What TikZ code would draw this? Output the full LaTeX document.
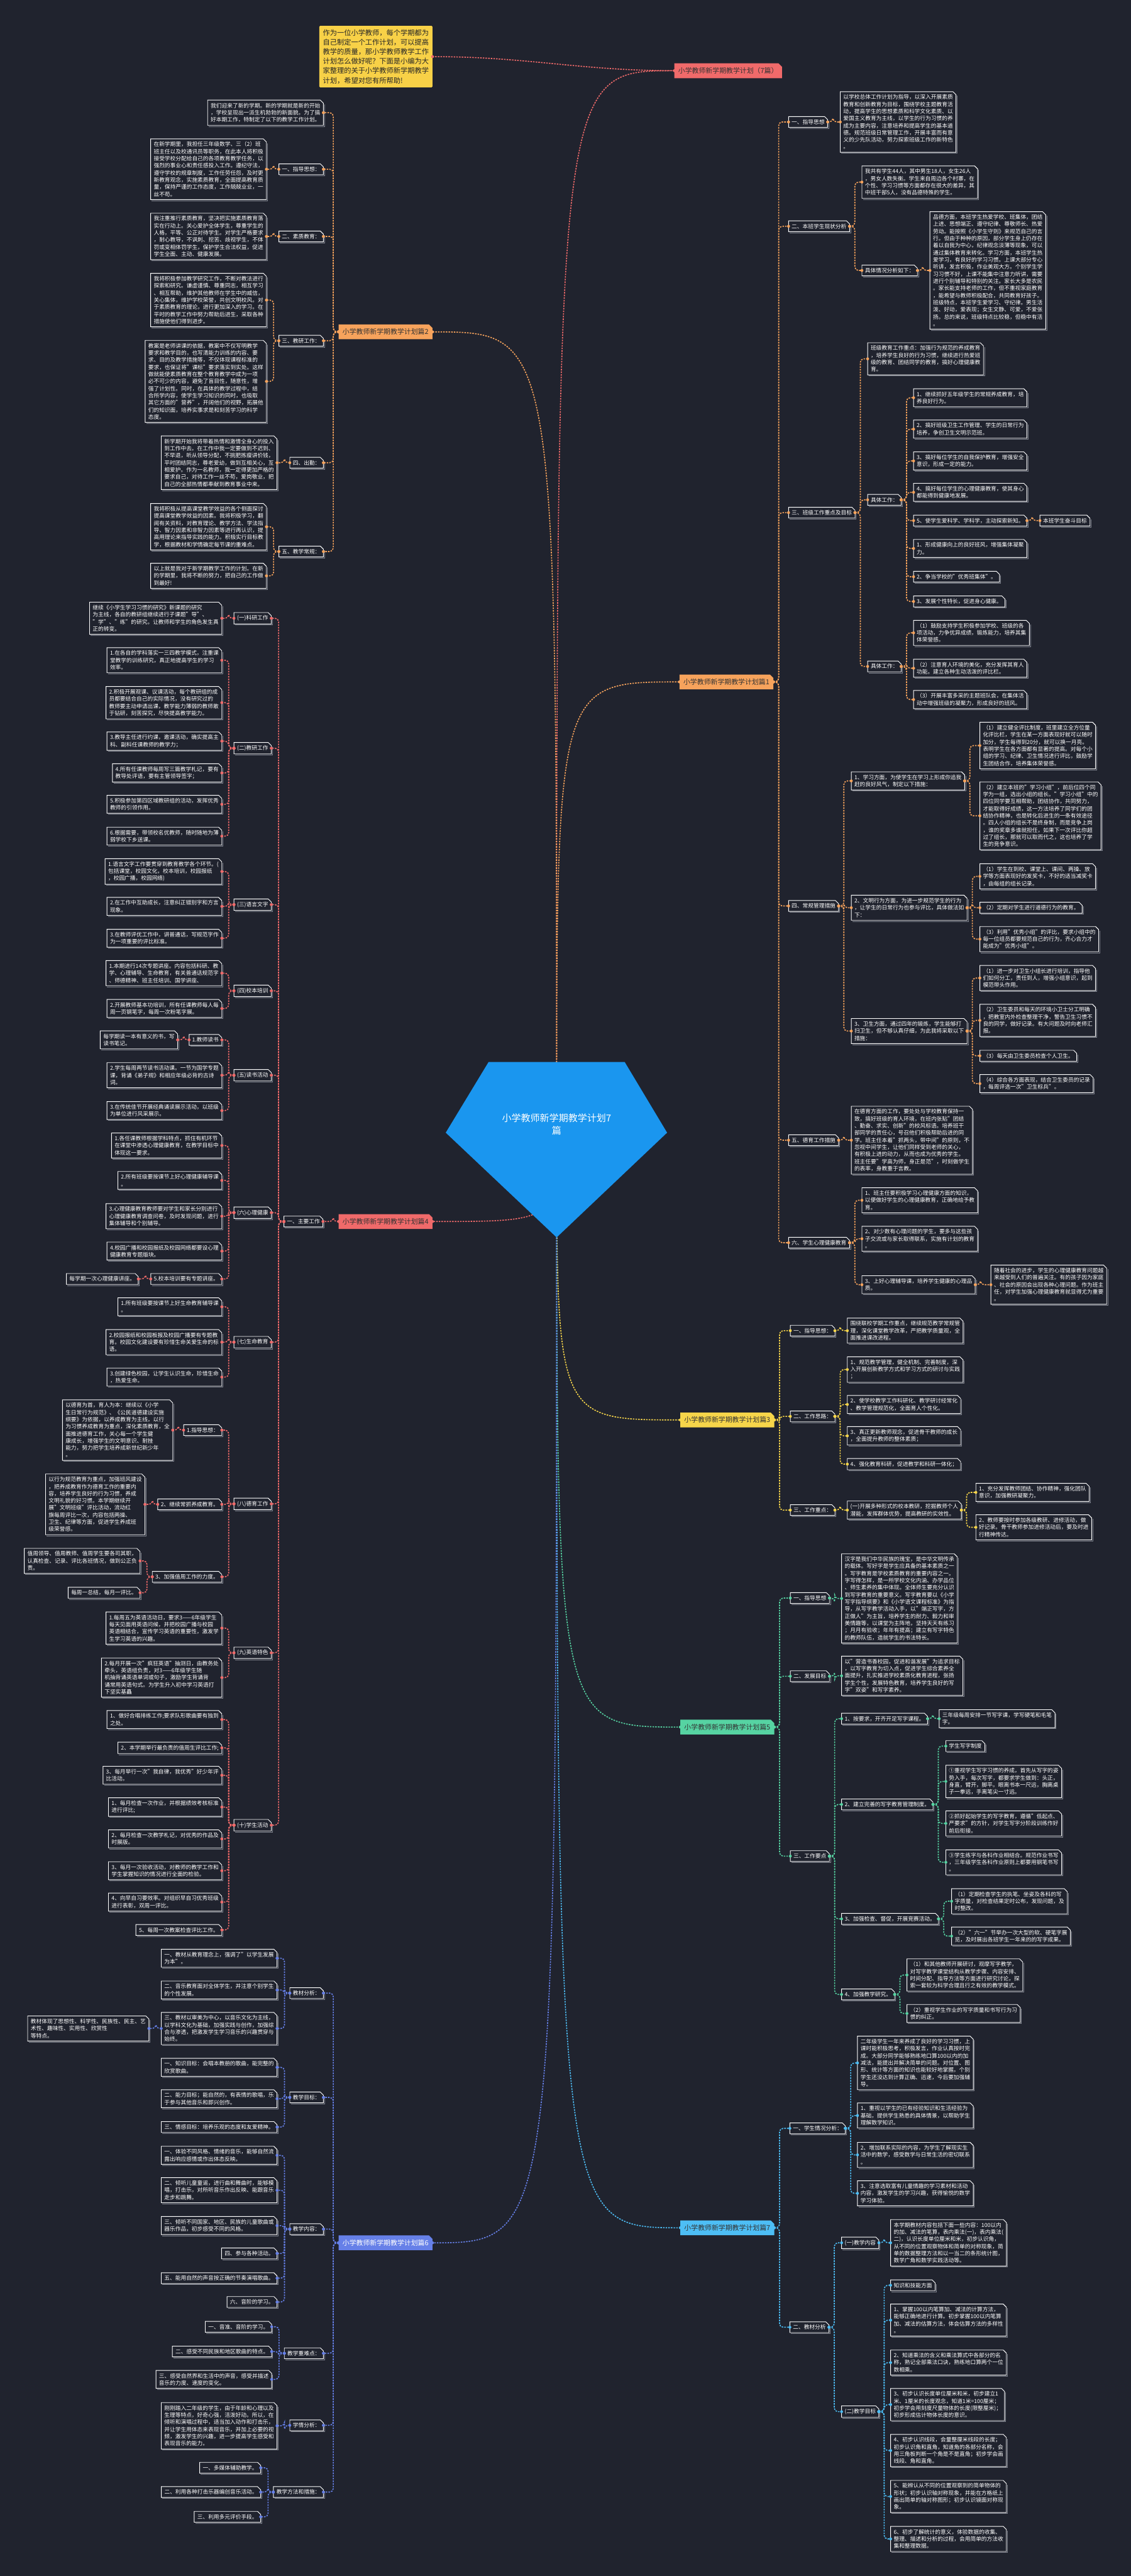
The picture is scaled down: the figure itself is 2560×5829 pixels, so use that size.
\documentclass[tikz,border=0pt]{standalone}
\usepackage{fontspec}
\setmainfont{Noto Sans CJK SC}
\usetikzlibrary{calc}
\definecolor{bgc}{HTML}{20232E}
\definecolor{cOr}{HTML}{F7A35C}
\definecolor{cRd}{HTML}{F06A6A}
\definecolor{cYe}{HTML}{F6D54A}
\definecolor{cGr}{HTML}{56D3A2}
\definecolor{cBl}{HTML}{6680E8}
\definecolor{cCy}{HTML}{4DBEF5}
\definecolor{cRoot}{HTML}{1A96EF}
\definecolor{cNote}{HTML}{F8D147}
\definecolor{shd}{HTML}{7D818C}
\pgfdeclarelayer{bgl}\pgfdeclarelayer{midl}\pgfsetlayers{bgl,midl,main}
\tikzset{
 box/.style={fill=bgc,text=white,font=\fontsize{12.4}{16.1}\selectfont,align=left,inner xsep=7pt,inner ysep=6.5pt,outer sep=0pt},
 brn/.style={font=\fontsize{15.5}{19}\selectfont,inner xsep=9pt,inner ysep=9.5pt,outer sep=0pt},
 conn/.style={line width=2.3pt,dash pattern=on 3.5pt off 2.5pt,rounded corners=8pt},
 outln/.style={white,line width=1.3pt},
 shdln/.style={shd,line width=1.3pt},
 notebox/.style={fill=cNote,text=black!85,font=\fontsize{16}{21.6}\selectfont,align=left,inner xsep=8pt,inner ysep=8pt,rounded corners=2pt}
}
\newcommand\outl[1]{%
 \draw[shdln] ([xshift=2.5pt,yshift=-2.5pt]#1.south west) -- ([xshift=2.5pt,yshift=-2.5pt]#1.south east) -- ([xshift=2.5pt,yshift=-9.5pt]#1.north east);
 \draw[outln] (#1.south west) -- (#1.north west) -- ([xshift=-7pt]#1.north east) -- ([yshift=-7pt]#1.north east) -- (#1.south east) -- cycle;}
\newcommand\bR[4]{\node[box,anchor=west] (#1) at (#2,#3) {#4};\outl{#1}}
\newcommand\bL[4]{\node[box,anchor=east] (#1) at (#2,#3) {#4};\outl{#1}}
\newcommand\brN[7]{\node[brn,anchor=#4,text=#6] (#1) at (#2,#3) {#7};
 \begin{pgfonlayer}{midl}\fill[#5] (#1.south west) -- (#1.north west) -- ([xshift=-8pt]#1.north east) -- ([yshift=-8pt]#1.north east) -- (#1.south east) -- cycle;\end{pgfonlayer}}
\newcommand\cR[3]{\draw[conn,#1] (#2.east) -- ++(12pt,0pt) |- (#3.west); \fill[#1] (#2.east) circle (3.3pt) (#3.west) circle (3.3pt);}
\newcommand\cL[3]{\draw[conn,#1] (#2.west) -- ++(-12pt,0pt) |- (#3.east); \fill[#1] (#2.west) circle (3.3pt) (#3.east) circle (3.3pt);}
\begin{document}
\begin{tikzpicture}[x=1pt,y=-1pt]
\begin{pgfonlayer}{bgl}
\fill[bgc] (0,0) rectangle (2560,5829);
\end{pgfonlayer}
\useasboundingbox (0,0) rectangle (2560,5829);

% ---------- note and title ----------
\node[notebox,anchor=south east] (N) at (979,198) {作为一位小学教师，每个学期都为\\自己制定一个工作计划，可以提高\\教学的质量，那小学教师教学工作\\计划怎么做好呢？下面是小编为大\\家整理的关于小学教师新学期教学\\计划，希望对您有所帮助!};
\brN{T}{1770}{160}{east}{cRd}{black!80}{小学教师新学期教学计划（7篇）}

% ---------- branch nodes ----------
\brN{B1}{1538}{1543}{west}{cOr}{black!80}{小学教师新学期教学计划篇1}
\brN{B3}{1540}{3213}{west}{cYe}{black!80}{小学教师新学期教学计划篇3}
\brN{B5}{1540}{3908}{west}{cGr}{black!80}{小学教师新学期教学计划篇5}
\brN{B7}{1540}{5041}{west}{cCy}{black!80}{小学教师新学期教学计划篇7}
\brN{B2}{979}{751}{east}{cOr}{black!80}{小学教师新学期教学计划篇2}
\brN{B4}{979}{2764}{east}{cRd}{black!80}{小学教师新学期教学计划篇4}
\brN{B6}{979}{5075}{east}{cBl}{white}{小学教师新学期教学计划篇6}

% ---------- root ----------
\coordinate (rootc) at (1260,2560);
\draw[conn,cRd] (rootc) .. controls (1260,160) .. (T.west);
\draw[conn,cOr] (rootc) .. controls (1260,1543) .. (B1.west);
\draw[conn,cYe] (rootc) .. controls (1260,3213) .. (B3.west);
\draw[conn,cGr] (rootc) .. controls (1260,3908) .. (B5.west);
\draw[conn,cCy] (rootc) .. controls (1260,5041) .. (B7.west);
\draw[conn,cOr] (rootc) .. controls (1260,751) .. (B2.east);
\draw[conn,cRd] (rootc) .. controls (1260,2764) .. (B4.east);
\draw[conn,cBl] (rootc) .. controls (1260,5075) .. (B6.east);
\fill[cRd] (T.west) circle (3.3pt); \fill[cOr] (B1.west) circle (3.3pt); \fill[cYe] (B3.west) circle (3.3pt);
\fill[cGr] (B5.west) circle (3.3pt); \fill[cCy] (B7.west) circle (3.3pt); \fill[cOr] (B2.east) circle (3.3pt);
\fill[cRd] (B4.east) circle (3.3pt); \fill[cBl] (B6.east) circle (3.3pt);
\draw[conn,cRd] (N.east) to[out=0,in=180] (T.west);
\fill[cRd] (N.east) circle (3.3pt);
\fill[cRoot] (1106,2403) -- (1414,2403) -- (1510,2563) -- (1260,2800) -- (1009,2563) -- cycle;
\node[text=white,font=\fontsize{21.4}{28}\selectfont,align=center] (root) at (1260,2544) {小学教师新学期教学计划7\\篇};

% =============== 篇1 ===============
\bR{a1}{1785}{276}{一、指导思想}
\bR{a2}{1785}{512}{二、本班学生现状分析}
\bR{a3}{1785}{1160}{三、班级工作重点及目标}
\bR{a4}{1785}{2050}{四、常规管理措施}
\bR{a5}{1785}{2580}{五、德育工作措施}
\bR{a6}{1785}{2812}{六、学生心理健康教育}
\foreach \c in {a1,a2,a3,a4,a5,a6} {\cR{cOr}{B1}{\c}}
\bR{a1t}{1902}{276}{以学校总体工作计划为指导，以深入开展素质\\教育和创新教育为目标，围绕学校主题教育活\\动，提高学生的思想素质和科学文化素质、以\\爱国主义教育为主线，以学生的行为习惯的养\\成为主要内容，注意培养和提高学生的基本道\\德。规范班级日常管理工作，开展丰富而有意\\义的少先队活动，努力探索班级工作的新特色\\。}
\cR{cOr}{a1}{a1t}
\bR{a2a}{1951}{412}{我共有学生44人，其中男生18人，女生26人\\，男女人数失衡。学生来自周边各个村寨，在\\个性、学习习惯等方面都存在很大的差异，其\\中班干部5人，没有品德特殊的学生。}
\bR{a2b}{1951}{612}{具体情况分析如下：}
\cR{cOr}{a2}{a2a}\cR{cOr}{a2}{a2b}
\bR{a2c}{2105}{612}{品德方面，本班学生热爱学校、班集体，团结\\上进、思想端正、遵守纪律、尊敬师长、热爱\\劳动。能按照《小学生守则》来规范自己的言\\行。但由于种种的原因，部分学生身上仍存在\\着以自我为中心，纪律观念淡薄等现象，可以\\通过集体教育来转化。学习方面，本班学生热\\爱学习，有良好的学习习惯。上课大部分专心\\听讲，发言积极，作业美观大方。个别学生学\\习习惯不好，上课不能集中注意力听讲，需要\\进行个别辅导和特别的关注。家长大多是农民\\。家长能支持老师的工作，但不重视家庭教育\\，能希望与教师积极配合，共同教育好孩子。\\班级特点，本班学生爱学习、守纪律。男生活\\泼、好动，爱表现；女生文静、可爱，不爱张\\扬。总的来说，班级特点比较稳，但稳中有活\\。}
\cR{cOr}{a2b}{a2c}
\bR{a3a}{1964}{812}{班级教育工作重点：加强行为规范的养成教育\\，培养学生良好的行为习惯，继续进行热爱班\\级的教育、团结同学的教育，搞好心理健康教\\育。}
\bR{a3b}{1964}{1131}{具体工作：}
\bR{a3c}{1964}{1508}{具体工作：}
\foreach \c in {a3a,a3b,a3c} {\cR{cOr}{a3}{\c}}
\bR{a3b1}{2068}{900}{1、继续抓好五年级学生的常规养成教育，培\\养良好行为。}
\bR{a3b2}{2068}{971}{2、搞好班级卫生工作管理、学生的日常行为\\培养，争创卫生文明示范班。}
\bR{a3b3}{2068}{1043}{3、搞好每位学生的自我保护教育，增强安全\\意识，形成一定的能力。}
\bR{a3b4}{2068}{1114}{4、搞好每位学生的心理健康教育，使其身心\\都能得到健康地发展。}
\bR{a3b5}{2068}{1178}{5、使学生爱科学、学科学，主动探索新知。}
\bR{a3b6}{2068}{1241}{1、形成健康向上的良好班风，增强集体凝聚\\力。}
\bR{a3b7}{2068}{1305}{2、争当学校的"优秀班集体"。}
\bR{a3b8}{2068}{1361}{3、发展个性特长，促进身心健康。}
\foreach \c in {a3b1,a3b2,a3b3,a3b4,a3b5,a3b6,a3b7,a3b8} {\cR{cOr}{a3b}{\c}}
\bR{a3b5x}{2354}{1178}{本班学生奋斗目标}
\cR{cOr}{a3b5}{a3b5x}
\bR{a3c1}{2068}{1432}{（1）鼓励支持学生积极参加学校、班级的各\\项活动，力争优异成绩，锻炼能力，培养其集\\体荣誉感。}
\bR{a3c2}{2068}{1512}{（2）注意育人环境的美化，充分发挥其育人\\功能。建立各种生动活泼的评比栏。}
\bR{a3c3}{2068}{1583}{（3）开展丰富多采的主题班队会，在集体活\\动中增强班级的凝聚力，形成良好的班风。}
\foreach \c in {a3c1,a3c2,a3c3} {\cR{cOr}{a3c}{\c}}
\bR{a4a}{1927}{1767}{1、学习方面，为使学生在学习上形成你追我\\赶的良好风气，制定以下措施：}
\bR{a4b}{1927}{2054}{2、文明行为方面，为进一步规范学生的行为\\，让学生的日常行为也参与评比，具体做法如\\下：}
\bR{a4c}{1927}{2333}{3、卫生方面，通过四年的锻炼，学生能够打\\扫卫生，但不够认真仔细，为此我将采取以下\\措施：}
\foreach \c in {a4a,a4b,a4c} {\cR{cOr}{a4}{\c}}
\bR{a4a1}{2218}{1687}{（1）建立健全评比制度，班里建立全方位量\\化评比栏，学生在某一方面表现好就可以随时\\加分，学生每得到20分，就可以换一月亮。\\表明学生在各方面都有显著的提高。对每个小\\组的学习、纪律、卫生情况进行评比，鼓励学\\生团结合作，培养集体荣誉感。}
\bR{a4a2}{2218}{1846}{（2）建立本班的"学习小组"，前后位四个同\\学为一组，选出小组的组长。"学习小组"中的\\四位同学要互相帮助，团结协作，共同努力，\\才能取得好成绩，这一方法培养了同学们的团\\结协作精神，也是转化后进生的一条有效途径\\。四人小组的组长不是终身制，而是竞争上岗\\，谁的奖章多谁就担任，如果下一次评比你超\\过了组长，那就可以取而代之，这也培养了学\\生的竞争意识。}
\foreach \c in {a4a1,a4a2} {\cR{cOr}{a4a}{\c}}
\bR{a4b1}{2218}{1983}{（1）学生在到校、课堂上、课间、两操、放\\学等方面表现好的发奖卡，不好的适当减奖卡\\，由每组的组长记录。}
\bR{a4b2}{2218}{2054}{（2）定期对学生进行道德行为的教育。}
\bR{a4b3}{2218}{2125}{（3）利用"优秀小组"的评比，要求小组中的\\每一位组员都要规范自己的行为，齐心合力才\\能成为"优秀小组"。}
\foreach \c in {a4b1,a4b2,a4b3} {\cR{cOr}{a4b}{\c}}
\bR{a4c1}{2218}{2213}{（1）进一步对卫生小组长进行培训，指导他\\们如何分工，责任到人，增强小组意识，起到\\模范带头作用。}
\bR{a4c2}{2218}{2309}{（2）卫生委员和每天的环境小卫士分工明确\\，把教室内外检查整理干净，警告卫生习惯不\\良的同学，做好记录。有大问题及时向老师汇\\报。}
\bR{a4c3}{2218}{2389}{（3）每天由卫生委员检查个人卫生。}
\bR{a4c4}{2218}{2452}{（4）综合各方面表现，结合卫生委员的记录\\，每周评选一次"卫生标兵"。}
\foreach \c in {a4c1,a4c2,a4c3,a4c4} {\cR{cOr}{a4c}{\c}}
\bR{a5t}{1927}{2580}{在德育方面的工作，要处处与学校教育保持一\\致，搞好班级的育人环境，在班内张贴"团结\\、勤奋、求实、创新"的校风标语。培养班干\\部同学的责任心，号召他们积极帮助后进的同\\学。班主任本着"抓两头，带中间"的原则，不\\忽视中间学生，让他们同样受到老师的关心，\\有积极上进的动力，从而也成为优秀的学生。\\班主任要"学高为师，身正是范"，时刻做学生\\的表率，身教重于言教。}
\cR{cOr}{a5}{a5t}
\bR{a6a}{1951}{2716}{1、班主任要积极学习心理健康方面的知识，\\以便做好学生的心理健康教育，正确地给予教\\育。}
\bR{a6b}{1951}{2803}{2、对少数有心理问题的学生，要多与这些孩\\子交流或与家长取得联系，实施有计划的教育\\。}
\bR{a6c}{1951}{2907}{3、上好心理辅导课，培养学生健康的心理品\\质。}
\foreach \c in {a6a,a6b,a6c} {\cR{cOr}{a6}{\c}}
\bR{a6cx}{2243}{2907}{随着社会的进步，学生的心理健康教育问题越\\来越受到人们的普遍关注。有的孩子因为家庭\\、社会的原因会出现各种心理问题。作为班主\\任，对学生加强心理健康教育就显得尤为重要\\。}
\cR{cOr}{a6c}{a6cx}

% =============== 篇3 ===============
\bR{c1}{1789}{3011}{一、指导思想：}
\bR{c2}{1789}{3205}{二、工作思路：}
\bR{c3}{1789}{3417}{三、工作重点：}
\foreach \c in {c1,c2,c3} {\cR{cYe}{B3}{\c}}
\bR{c1t}{1918}{3011}{围绕联校学期工作重点，继续规范教学常规管\\理，深化课堂教学改革，严把教学质量观，全\\面推进课改进程。}
\cR{cYe}{c1}{c1t}
\bR{c2a}{1918}{3099}{1、规范教学管理，健全机制、完善制度，深\\入开展创新教学方式和学习方式的研讨与实践\\；}
\bR{c2b}{1918}{3178}{2、使学校教学工作科研化、教学研讨经常化\\、教学管理规范化，全面育人个性化。}
\bR{c2c}{1918}{3249}{3、真正更新教师观念，促进骨干教师的成长\\，全面提升教师的整体素质；}
\bR{c2d}{1918}{3313}{4、强化教育科研，促进教学和科研一体化；}
\foreach \c in {c2a,c2b,c2c,c2d} {\cR{cYe}{c2}{\c}}
\bR{c3a}{1918}{3417}{(一)开展多种形式的校本教研，挖掘教师个人\\潜能，发挥群体优势，提高教研的实效性。}
\cR{cYe}{c3}{c3a}
\bR{c3a1}{2209}{3377}{1、充分发挥教师团结、协作精神，强化团队\\意识，加强教研凝聚力。}
\bR{c3a2}{2209}{3456}{2、教师要按时参加各级教研、进修活动，做\\好记录。骨干教师参加进修活动后，要及时进\\行精神传达。}
\foreach \c in {c3a1,c3a2} {\cR{cYe}{c3a}{\c}}

% =============== 篇5 ===============
\bR{e1}{1789}{3616}{一、指导思想}
\bR{e2}{1789}{3793}{二、发展目标}
\bR{e3}{1789}{4200}{三、工作要点}
\foreach \c in {e1,e2,e3} {\cR{cGr}{B5}{\c}}
\bR{e1t}{1905}{3617}{汉字是我们中华民族的瑰宝，是中华文明传承\\的载体。写好字是学生应具备的基本素质之一\\。写字教育是学校素质教育的重要内容之一。\\字写得怎样，是一所学校文化内涵、办学品位\\、师生素养的集中体现。全体师生要充分认识\\到写字教育的重要意义。写字教育要以《小学\\写字指导纲要》和《小学语文课程标准》为指\\导，从写字教学活动入手，以"端正写字，方\\正做人"为主旨，培养学生的耐力、毅力和审\\美情趣等，以课堂为主阵地，坚持天天有练习\\；月月有验收；年年有提高；建立有写字特色\\的教师队伍，造就学生的书法特长。}
\cR{cGr}{e1}{e1t}
\bR{e2t}{1905}{3792}{以"营造书香校园，促进和谐发展"为追求目标\\，以写字教育为切入点，促进学生综合素养全\\面提升，扎实推进学校素质化教育进程，张扬\\学生个性，发展特色教育，培养学生良好的写\\字"双姿"和写字素养。}
\cR{cGr}{e2}{e2t}
\bR{e3a}{1905}{3889}{1、按要求，开齐开足写字课程。}
\bR{e3b}{1905}{4083}{2、建立完善的写字教育管理制度。}
\bR{e3c}{1905}{4342}{3、加强检查、督促，开展竞赛活动。}
\bR{e3d}{1905}{4513}{4、加强教学研究。}
\foreach \c in {e3a,e3b,e3c,e3d} {\cR{cGr}{e3}{\c}}
\bR{e3ax}{2126}{3889}{三年级每周安排一节写字课，学写硬笔和毛笔\\字。}
\cR{cGr}{e3a}{e3ax}
\bR{e3b1}{2141}{3951}{学生写字制度}
\bR{e3b2}{2141}{4031}{①重视学生写字习惯的养成，首先从写字的姿\\势入手，每次写字，都要求学生做到：头正，\\身直，臂开，脚平。眼离书本一尺远，胸离桌\\子一拳远，手离笔尖一寸远。}
\bR{e3b3}{2141}{4126}{②抓好起始学生的写字教育，遵循"低起点、\\严要求"的方针，对学生写字分阶段训练作好\\前后衔接。}
\bR{e3b4}{2141}{4214}{③学生练字与各科作业相结合。规范作业书写\\，三年级学生各科作业原则上都要用钢笔书写\\。}
\foreach \c in {e3b1,e3b2,e3b3,e3b4} {\cR{cGr}{e3b}{\c}}
\bR{e3c1}{2154}{4302}{（1）定期检查学生的执笔、坐姿及各科的写\\字质量，对检查结果定时公布，发现问题，及\\时整改。}
\bR{e3c2}{2154}{4381}{（2）"六一"节举办一次大型的软、硬笔字展\\览，及时展出各班学生一年来的的写字成果。}
\foreach \c in {e3c1,e3c2} {\cR{cGr}{e3c}{\c}}
\bR{e3d1}{2053}{4469}{（1）和其他教师开展研讨，观摩写字教学，\\对写字教学课堂结构从教学步骤、内容安排、\\时间分配、指导方法等方面进行研究讨论，探\\索一套较为科学合理且行之有效的教学模式。}
\bR{e3d2}{2053}{4556}{（2）重视学生作业的写字质量和书写行为习\\惯的纠正。}
\foreach \c in {e3d1,e3d2} {\cR{cGr}{e3d}{\c}}

% =============== 篇7 ===============
\bR{g1}{1788}{4816}{一、学生情况分析：}
\bR{g2}{1788}{5266}{二、教材分析}
\foreach \c in {g1,g2} {\cR{cCy}{B7}{\c}}
\bR{g1a}{1941}{4668}{二年级学生一年来养成了良好的学习习惯，上\\课时能积极思考，积极发言，作业认真按时完\\成。大部分同学能够熟练地口算100以内的加\\减法，能提出并解决简单的问题。对位置、图\\形、统计等方面的知识也能较好地掌握。个别\\学生还没达到计算正确、迅速，今后要加强辅\\导。}
\bR{g1b}{1941}{4787}{1、重视以学生的已有经验知识和生活经验为\\基础，提供学生熟悉的具体情景，以帮助学生\\理解数学知识。}
\bR{g1c}{1941}{4876}{2、增加联系实际的内容，为学生了解现实生\\活中的数学，感受数学与日常生活的密切联系\\。}
\bR{g1d}{1941}{4963}{3、注意选取富有儿童情趣的学习素材和活动\\内容，激发学生的学习兴趣，获得愉悦的数学\\学习体验。}
\foreach \c in {g1a,g1b,g1c,g1d} {\cR{cCy}{g1}{\c}}
\bR{g2a}{1905}{5075}{(一)教学内容}
\bR{g2b}{1905}{5457}{(二)教学目标}
\foreach \c in {g2a,g2b} {\cR{cCy}{g2}{\c}}
\bR{g2at}{2016}{5075}{本学期教材内容包括下面一些内容：100以内\\的加、减法的笔算，表内乘法(一)，表内乘法(\\二)，认识长度单位厘米和米，初步认识角，\\从不同的位置观察物体和简单的对称现象，简\\单的数据整理方法和以一当二的条形统计图，\\数学广角和数学实践活动等。}
\cR{cCy}{g2a}{g2at}
\bR{g2b0}{2016}{5171}{知识和技能方面}
\bR{g2b1}{2016}{5250}{1、掌握100以内笔算加、减法的计算方法，\\能够正确地进行计算。初步掌握100以内笔算\\加、减法的估算方法，体会估算方法的多样性\\。}
\bR{g2b2}{2016}{5346}{2、知道乘法的含义和乘法算式中各部分的名\\称，熟记全部乘法口诀，熟练地口算两个一位\\数相乘。}
\bR{g2b3}{2016}{5441}{3、初步认识长度单位厘米和米，初步建立1\\米、1厘米的长度观念，知道1米=100厘米；\\初步学会用刻度尺量物体的长度(限整厘米)；\\初步形成估计物体长度的意识。}
\bR{g2b4}{2016}{5545}{4、初步认识线段，会量整厘米线段的长度；\\初步认识角和直角，知道角的各部分名称，会\\用三角板判断一个角是不是直角；初步学会画\\线段、角和直角。}
\bR{g2b5}{2016}{5649}{5、能辨认从不同的位置观察到的简单物体的\\形状；初步认识轴对称现象，并能在方格纸上\\画出简单的轴对称图形；初步认识镜面对称现\\象。}
\bR{g2b6}{2016}{5745}{6、初步了解统计的意义，体验数据的收集、\\整理、描述和分析的过程，会用简单的方法收\\集和整理数据。}
\foreach \c in {g2b0,g2b1,g2b2,g2b3,g2b4,g2b5,g2b6} {\cR{cCy}{g2b}{\c}}

% =============== 篇2 ===============
\bL{b0}{732}{255}{我们迎来了新的学期。新的学期就是新的开始\\，学校呈现出一派生机勃勃的新面貌。为了搞\\好本期工作，特制定了以下的教学工作计划。}
\bL{b1}{732}{383}{一、指导思想：}
\bL{b2}{732}{535}{二、素质教育：}
\bL{b3}{732}{771}{三、教研工作：}
\bL{b4}{732}{1047}{四、出勤：}
\bL{b5}{732}{1248}{五、教学常规：}
\foreach \c in {b0,b1,b2,b3,b4,b5} {\cL{cOr}{B2}{\c}}
\bL{b1t}{603}{383}{在新学期里，我担任三年级数学、三（2）班\\班主任以及校通讯员等职务，在此本人将积极\\接受学校分配给自己的各项教育教学任务，以\\强烈的事业心和责任感投入工作。遵纪守法，\\遵守学校的规章制度，工作任劳任怨，及时更\\新教育观念，实施素质教育，全面提高教育质\\量，保持严谨的工作态度，工作兢兢业业，一\\丝不苟。}
\cL{cOr}{b1}{b1t}
\bL{b2t}{603}{535}{我注重推行素质教育，坚决把实施素质教育落\\实在行动上。关心爱护全体学生，尊重学生的\\人格，平等、公正对待学生。对学生严格要求\\，耐心教导，不讽刺、挖苦、歧视学生，不体\\罚或变相体罚学生，保护学生合法权益，促进\\学生全面、主动、健康发展。}
\cL{cOr}{b2}{b2t}
\bL{b3a}{603}{679}{我将积极参加教学研究工作，不断对教法进行\\探索和研究。谦虚谨慎、尊重同志，相互学习\\、相互帮助，维护其他教师在学生中的威信，\\关心集体，维护学校荣誉，共创文明校风。对\\于素质教育的理论，进行更加深入的学习。在\\平时的教学工作中努力帮助后进生，采取各种\\措施使他们得到进步。}
\bL{b3b}{603}{863}{教案是老师讲课的依据，教案中不仅写明教学\\要求和教学目的，也写清能力训练的内容、要\\求、目的及教学措施等，不仅体现课程标准的\\要求，也保证将"课标"要求落实到实处。这样\\做就能使素质教育在整个教育教学中成为一项\\必不可少的内容，避免了盲目性，随意性，增\\强了计划性。同时，在具体的教学过程中，结\\合所学内容，使学生学习知识的同时，也吸取\\其它方面的"营养"，开阔他们的视野，拓展他\\们的知识面，培养实事求是和刻苦学习的科学\\态度。}
\cL{cOr}{b3}{b3a}\cL{cOr}{b3}{b3b}
\bL{b4t}{627}{1047}{新学期开始我将带着热情和激情全身心的投入\\到工作中去。在工作中我一定要做到不迟到、\\不早退，听从领导分配，不挑肥拣瘦讲价钱，\\平时团结同志，尊老爱幼，做到互相关心，互\\相爱护。作为一名教师，我一定得更加严格的\\要求自己，对待工作一丝不苟，爱岗敬业，把\\自己的全部热情都奉献到教育事业中来。}
\cL{cOr}{b4}{b4t}
\bL{b5a}{603}{1192}{我将积极从提高课堂教学效益的各个侧面探讨\\提高课堂教学效益的因素。我将积极学习，翻\\阅有关资料，对教育理论、教学方法、学法指\\导、智力因素和非智力因素等进行再认识，提\\高用理论来指导实践的能力。积极实行目标教\\学，根据教材和学情确定每节课的重难点。}
\bL{b5b}{603}{1303}{以上就是我对于新学期教学工作的计划。在新\\的学期里，我将不断的努力，把自己的工作做\\到最好!}
\cL{cOr}{b5}{b5a}\cL{cOr}{b5}{b5b}

% =============== 篇4 ===============
\bL{d0}{731}{2764}{一、主要工作}
\cL{cRd}{B4}{d0}
\bL{d1}{614}{1399}{(一)科研工作}
\bL{d2}{614}{1693}{(二)教研工作}
\bL{d3}{614}{2047}{(三)语言文字}
\bL{d4}{614}{2242}{(四)校本培训}
\bL{d5}{614}{2433}{(五)读书活动}
\bL{d6}{614}{2744}{(六)心理健康}
\bL{d7}{614}{3037}{(七)生命教育}
\bL{d8}{614}{3403}{(八)德育工作}
\bL{d9}{614}{3740}{(九)英语特色}
\bL{d10}{614}{4130}{(十)学生活动}
\foreach \c in {d1,d2,d3,d4,d5,d6,d7,d8,d9,d10} {\cL{cRd}{d0}{\c}}
\bL{d1a}{502}{1399}{继续《小学生学习习惯的研究》新课题的研究\\为主线，各自的教研组继续进行子课题"导"、\\"学"、"练"的研究。让教师和学生的角色发生真\\正的转变。}
\cL{cRd}{d1}{d1a}
\bL{d2a}{502}{1494}{1.在各自的学科落实一三四教学模式，注重课\\堂教学的训练研究，真正地提高学生的学习\\效率。}
\bL{d2b}{502}{1590}{2.积极开展观课、议课活动，每个教研组的成\\员都要结合自己的实际情况，没有研究过的\\教师要主动申请出课，教学能力薄弱的教师敢\\于钻研，刻苦探究，尽快提高教学能力。}
\bL{d2c}{502}{1677}{3.教导主任进行约课，邀课活动，确实提高主\\科、副科任课教师的教学力；}
\bL{d2d}{502}{1749}{4.所有任课教师每周写三篇教学札记，要有\\教导处评语，要有主管领导签字；}
\bL{d2e}{502}{1820}{5.积极参加第四区域教研组的活动，发挥优秀\\教师的引领作用。}
\bL{d2f}{502}{1892}{6.根据需要，带领校名优教师，随时随地为薄\\弱学校下乡送课。}
\foreach \c in {d2a,d2b,d2c,d2d,d2e,d2f} {\cL{cRd}{d2}{\c}}
\bL{d3a}{502}{1972}{1.语言文字工作要贯穿到教育教学各个环节。(\\包括课堂，校园文化，校本培训，校园报纸\\，校园广播，校园网络)}
\bL{d3b}{502}{2051}{2.在工作中互助成长，注意纠正错别字和方言\\现象。}
\bL{d3c}{502}{2123}{3.在教师评优工作中，讲普通话，写规范字作\\为一项重要的评比标准。}
\foreach \c in {d3a,d3b,d3c} {\cL{cRd}{d3}{\c}}
\bL{d4a}{502}{2202}{1.本期进行14次专题讲座。内容包括科研、教\\学、心理辅导、生命教育，有关普通话规范字\\、师德精神、班主任培训、国学讲座、}
\bL{d4b}{502}{2282}{2.开展教师基本功培训，所有任课教师每人每\\周一页钢笔字，每周一次粉笔字展。}
\foreach \c in {d4a,d4b} {\cL{cRd}{d4}{\c}}
\bL{d5a}{502}{2353}{1.教师读书}
\bL{d5b}{502}{2433}{2.学生每周两节读书活动课。一节为国学专题\\课，背诵《弟子规》和相应年级必背的古诗\\词。}
\bL{d5c}{502}{2513}{3.在传统佳节开展经典诵读展示活动，以班级\\为单位进行风采展示。}
\foreach \c in {d5a,d5b,d5c} {\cL{cRd}{d5}{\c}}
\bL{d5ax}{402}{2353}{每学期读一本有意义的书，写\\读书笔记。}
\cL{cRd}{d5a}{d5ax}
\bL{d6a}{502}{2592}{1.各任课教师根据学科特点，抓住有机环节\\在课堂中渗透心理健康教育，在教学目标中\\体现这一要求。}
\bL{d6b}{502}{2671}{2.所有班级要按课节上好心理健康辅导课\\。}
\bL{d6c}{502}{2752}{3.心理健康教育教师要对学生和家长分别进行\\心理健康教育调查问卷，及时发现问题，进行\\集体辅导和个别辅导。}
\bL{d6d}{502}{2831}{4.校园广播和校园报纸及校园网络都要设心理\\健康教育专题版块。}
\bL{d6e}{502}{2894}{5.校本培训要有专题讲座。}
\foreach \c in {d6a,d6b,d6c,d6d,d6e} {\cL{cRd}{d6}{\c}}
\bL{d6ex}{313}{2894}{每学期一次心理健康讲座。}
\cL{cRd}{d6e}{d6ex}
\bL{d7a}{502}{2957}{1.所有班级要按课节上好生命教育辅导课\\。}
\bL{d7b}{502}{3037}{2.校园报纸和校园板报及校园广播要有专题教\\育。校园文化建设要有珍惜生命关爱生命的标\\语。}
\bL{d7c}{502}{3116}{3.创建绿色校园，让学生认识生命，珍惜生命\\，热爱生命。}
\foreach \c in {d7a,d7b,d7c} {\cL{cRd}{d7}{\c}}
\bL{d8a}{502}{3236}{1.指导思想：}
\bL{d8b}{502}{3404}{2、继续常抓养成教育。}
\bL{d8c}{502}{3568}{3、加强值周工作的力度。}
\foreach \c in {d8a,d8b,d8c} {\cL{cRd}{d8}{\c}}
\bL{d8ax}{391}{3236}{以德育为首，育人为本：继续以《小学\\生日常行为规范》、《公民道德建设实施\\纲要》为依据，以养成教育为主线，以行\\为习惯养成教育为重点，深化素质教育，全\\面推进德育工作，关心每一个学生健\\康成长，增强学生的文明意识、耐挫\\能力，努力把学生培养成新世纪新少年\\。}
\cL{cRd}{d8a}{d8ax}
\bL{d8bx}{328}{3404}{以行为规范教育为重点，加强班风建设\\，把养成教育作为德育工作的重要内\\容，培养学生良好的行为习惯，养成\\文明礼貌的好习惯。本学期继续开\\展"文明班级"评比活动，流动红\\旗每周评比一次，内容包括两操、\\卫生、纪律等方面，促进学生养成班\\级荣誉感。}
\cL{cRd}{d8b}{d8bx}
\bL{d8c1}{317}{3532}{值周领导、值周教师、值周学生要各司其职，\\认真检查、记录、评比各班情况，做到公正负\\责。}
\bL{d8c2}{317}{3604}{每周一总结，每月一评比。}
\cL{cRd}{d8c}{d8c1}\cL{cRd}{d8c}{d8c2}
\bL{d9a}{502}{3684}{1.每周五为英语活动日，要求3——6年级学生\\每天见面用英语问候，并把校园广播与校园\\英语相结合，宣传学习英语的重要性，激发学\\生学习英语的兴趣。}
\bL{d9b}{502}{3796}{2.每月开展一次"疯狂英语"抽测日，由教务处\\牵头，英语组负责，对3——6年级学生随\\机抽背诵英语单词或句子，激励学生背诵背\\诵常用英语句式。为学生升入初中学习英语打\\下坚实基矗}
\foreach \c in {d9a,d9b} {\cL{cRd}{d9}{\c}}
\bL{d10a}{502}{3891}{1、做好合唱排练工作;要求队形歌曲要有独到\\之处。}
\bL{d10b}{502}{3955}{2、本学期举行最负责的值周生评比工作;}
\bL{d10c}{502}{4017}{3、每月举行一次"我自律，我优秀"好少年评\\比活动。}
\bL{d10d}{502}{4089}{1、每月检查一次作业，并根据绩效考核标准\\进行评比;}
\bL{d10e}{502}{4161}{2、每月检查一次教学札记，对优秀的作品及\\时展版。}
\bL{d10f}{502}{4233}{3、每月一次验收活动，对教师的教学工作和\\学生掌握知识的情况进行全面的检验。}
\bL{d10g}{502}{4304}{4、向早自习要效率。对组织早自习优秀班级\\进行表彰，双周一评比。}
\bL{d10h}{502}{4367}{5、每周一次教案检查评比工作。}
\foreach \c in {d10a,d10b,d10c,d10d,d10e,d10f,d10g,d10h} {\cL{cRd}{d10}{\c}}

% =============== 篇6 ===============
\bL{f1}{732}{4510}{教材分析：}
\bL{f2}{732}{4746}{教学目标：}
\bL{f3}{732}{5044}{教学内容：}
\bL{f4}{732}{5325}{教学重难点：}
\bL{f5}{732}{5488}{学情分析：}
\bL{f6}{732}{5639}{教学方法和措施：}
\foreach \c in {f1,f2,f3,f4,f5,f6} {\cL{cBl}{B6}{\c}}
\bL{f1a}{627}{4431}{一、教材从教育理念上，强调了"以学生发展\\为本"。}
\bL{f1b}{627}{4503}{二、音乐教育面对全体学生，并注意个别学生\\的个性发展。}
\bL{f1c}{627}{4590}{三、教材以审美为中心，以音乐文化为主线，\\以学科文化为基础，加强实践与创作，加强综\\合与渗透，把激发学生学习音乐的兴趣贯穿与\\始终。}
\foreach \c in {f1a,f1b,f1c} {\cL{cBl}{f1}{\c}}
\bL{f1cx}{337}{4590}{教材体现了思想性、科学性、民族性、民主、艺\\术性、趣味性、实用性、欣赏性\\等特点。}
\cL{cBl}{f1c}{f1cx}
\bL{f2a}{627}{4678}{一、知识目标：会唱本教册的歌曲，能完整的\\欣赏歌曲。}
\bL{f2b}{627}{4749}{二、能力目标；能自然的，有表情的歌唱，乐\\于参与其他音乐和即兴创作。}
\bL{f2c}{627}{4813}{三、情感目标：培养乐观的态度和友爱精神。}
\foreach \c in {f2a,f2b,f2c} {\cL{cBl}{f2}{\c}}
\bL{f3a}{627}{4877}{一、体验不同风格、情绪的音乐，能够自然流\\露出响应感情或作出体态反映。}
\bL{f3b}{627}{4956}{二、倾听儿童童谣，进行曲和舞曲时，能够模\\唱，打击乐，对所听音乐作出反映、能跟音乐\\走步和跳舞。}
\bL{f3c}{627}{5036}{三、倾听不同国家、地区、民族的儿童歌曲或\\器乐作品，初步感受不同的风格。}
\bL{f3d}{627}{5099}{四、参与各种活动。}
\bL{f3e}{627}{5155}{五、能用自然的声音按正确的节奏演唱歌曲。}
\bL{f3f}{627}{5209}{六、音阶的学习。}
\foreach \c in {f3a,f3b,f3c,f3d,f3e,f3f} {\cL{cBl}{f3}{\c}}
\bL{f4a}{615}{5265}{一、音准、音阶的学习。}
\bL{f4b}{615}{5321}{二、感受不同民族和地区歌曲的特点。}
\bL{f4c}{615}{5384}{三、感受自然界和生活中的声音，感受并描述\\音乐的力度、速度的变化。}
\foreach \c in {f4a,f4b,f4c} {\cL{cBl}{f4}{\c}}
\bL{f5t}{627}{5489}{刚刚踏入二年级的学生，由于年龄和心理以及\\生理等特点，好奇心强，活泼好动。所以，在\\倾听和演唱过程中，适当加入动作和打击乐，\\并让学生用体态来表现音乐，并加上必要的视\\频，激发学生的兴趣，进一步提高学生感受和\\表现音乐的能力。}
\cL{cBl}{f5}{f5t}
\bL{f6a}{590}{5584}{一、多媒体辅助教学。}
\bL{f6b}{590}{5639}{二、利用各种打击乐器编创音乐活动。}
\bL{f6c}{590}{5695}{三、利用多元评价手段。}
\foreach \c in {f6a,f6b,f6c} {\cL{cBl}{f6}{\c}}
\end{tikzpicture}
\end{document}
